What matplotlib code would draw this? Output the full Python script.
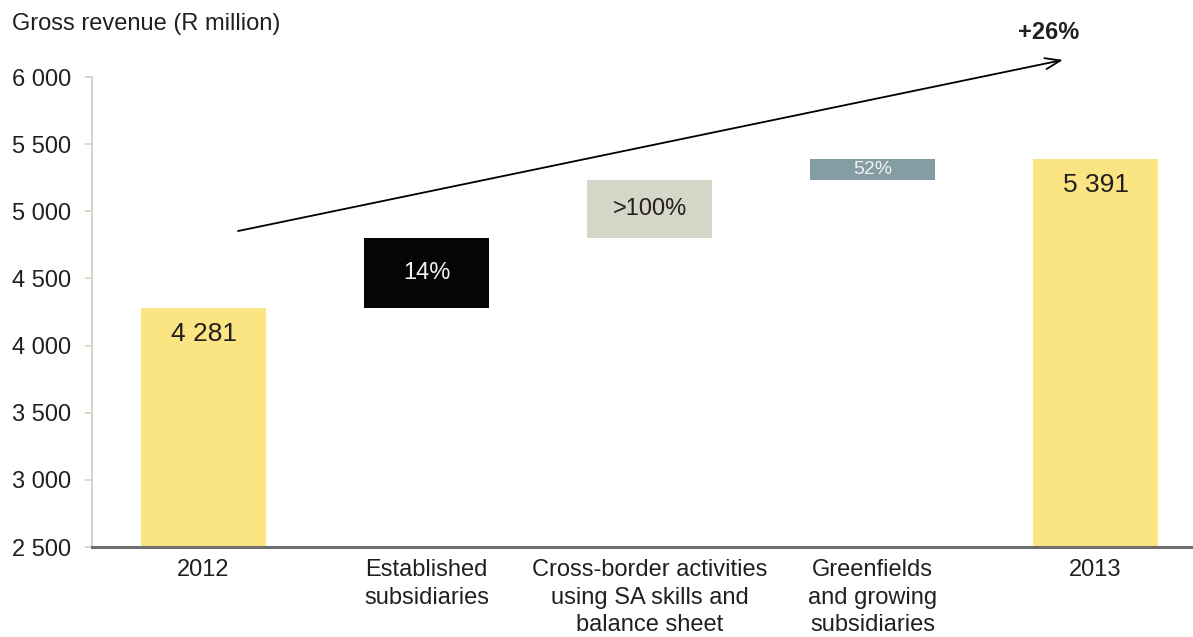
import matplotlib
matplotlib.use("Agg")
import matplotlib.pyplot as plt

plt.rcParams['font.family'] = ['Liberation Sans', 'DejaVu Sans']

# Revenue bridge, R million
categories = ["2012", "Established\nsubsidiaries",
              "Cross-border activities\nusing SA skills and\nbalance sheet",
              "Greenfields\nand growing\nsubsidiaries", "2013"]
start_value = 4281
end_value = 5391
increments = [520, 435, 155]          # established, cross-border, greenfields
step_labels = ["14%", ">100%", "52%"]
total_label = "+26%"
yticks = [2500, 3000, 3500, 4000, 4500, 5000, 5500, 6000]

total_color = "#FBE482"
step_colors = ["#050503", "#D5D5C8", "#849CA4"]
step_text_colors = ["#F2F2F2", "#231F20", "#F2F2F2"]
step_text_sizes = [17, 17, 14]
text_dark = "#231F20"


def fmt(v):
    return f"{v:,}".replace(",", " ")


fig = plt.figure(figsize=(11.93, 6.37), dpi=100)
ax = fig.add_axes([92 / 1193, 90 / 637, 1101 / 1193, 470 / 637])

x = list(range(len(categories)))
width = 0.56

# totals
for xi, val in [(x[0], start_value), (x[-1], end_value)]:
    ax.bar(xi, val - 2500, bottom=2500, width=width, color=total_color, zorder=2)
    ax.annotate(fmt(val), (xi, val), xytext=(0, -10), textcoords="offset points",
                ha="center", va="top", fontsize=19, color=text_dark)

# floating steps
level = start_value
for i, inc in enumerate(increments):
    xi = x[i + 1]
    ax.bar(xi, inc, bottom=level, width=width, color=step_colors[i], zorder=2)
    ax.text(xi, level + inc / 2, step_labels[i], ha="center", va="center",
            fontsize=step_text_sizes[i], color=step_text_colors[i], zorder=3)
    level += inc

# overall growth arrow
ax.annotate("", xy=(3.854, 6127), xytext=(0.155, 4853),
            arrowprops=dict(arrowstyle="->,head_length=1.1,head_width=0.4",
                            color="black", lw=1.3, shrinkA=0, shrinkB=0),
            annotation_clip=False, zorder=4)
ax.text(3.79, 6245, total_label, ha="center", va="bottom", fontsize=17,
        fontweight="bold", color=text_dark)

ax.set_ylim(2500, 6000)
ax.set_xlim(-0.5, 4.437)
ax.set_yticks(yticks)
ax.set_yticklabels([fmt(v) for v in yticks], fontsize=17, color=text_dark)
ax.set_xticks(x)
ax.set_xticklabels(categories, fontsize=17, color=text_dark, linespacing=1.3)
ax.tick_params(axis="x", length=0, pad=9)
ax.tick_params(axis="y", length=5, width=1.3, color="#D5D5C8", pad=10, direction="out")

for s in ["top", "right"]:
    ax.spines[s].set_visible(False)
ax.spines["left"].set_color("#D5D5C8")
ax.spines["left"].set_linewidth(1.5)
ax.spines["bottom"].set_color("#6E6E6E")
ax.spines["bottom"].set_linewidth(2.2)
ax.spines["bottom"].set_zorder(5)

fig.text(12 / 1193, 1 - 24 / 637, "Gross revenue (R million)", fontsize=17,
         color=text_dark, ha="left", va="center")

fig.savefig("out.png", dpi=100)
